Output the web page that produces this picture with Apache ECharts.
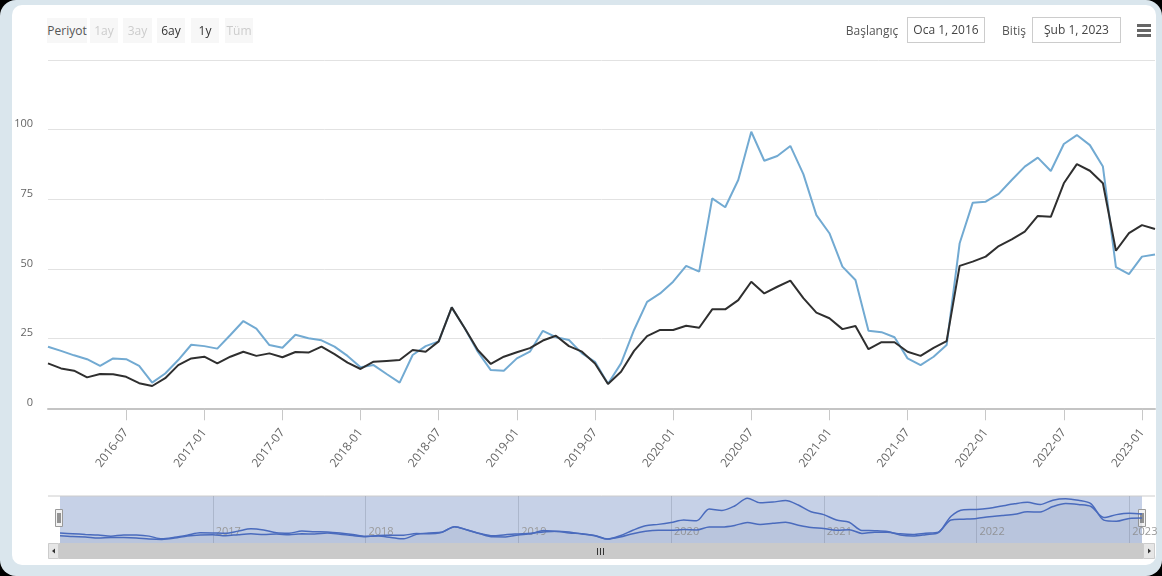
<!DOCTYPE html>
<html>
<head>
<meta charset="utf-8">
<title>Periyot</title>
<script src="https://cdn.jsdelivr.net/npm/echarts@6/dist/echarts.min.js"></script>
<style>
  html, body { margin: 0; padding: 0; width: 1162px; height: 576px; overflow: hidden; background: #000; font-family: "Open Sans", sans-serif; }
  #frame { position: absolute; left: 0; top: 0; width: 1162px; height: 576px; background: #dae6ed; border-radius: 16px; }
  #panel { position: absolute; left: 12px; top: 5px; right: 6px; bottom: 11px; background: #fff; border-radius: 10px; }
  #chart { position: absolute; left: 0; top: 0; width: 1162px; height: 576px; }
  .tb { position: absolute; top: 18px; height: 25px; line-height: 25px; font-size: 12px; text-align: center; z-index: 5; }
  .btn { background: #f7f7f7; color: #cccccc; }
  .btn.on { color: #333; }
  .lbl { color: #555; }
  .box { position: absolute; top: 17px; height: 24px; line-height: 24px; border: 1px solid #cccccc; font-size: 12px; color: #444; text-align: center; background: #fff; z-index: 5; }
  .bar { position: absolute; left: 1137px; width: 14px; height: 3px; background: #666; z-index: 5; }
</style>
</head>
<body>
<div id="frame"><div id="panel"></div></div>
<div id="chart"></div>

<div class="tb btn lbl" style="left:47px;width:40px;">Periyot</div>
<div class="tb btn" style="left:90px;width:28px;">1ay</div>
<div class="tb btn" style="left:123px;width:29px;">3ay</div>
<div class="tb btn on" style="left:157px;width:28px;">6ay</div>
<div class="tb btn on" style="left:191px;width:28px;">1y</div>
<div class="tb btn" style="left:225px;width:28px;">Tüm</div>

<div class="tb lbl" style="left:843px;width:58px;">Başlangıç</div>
<div class="box" style="left:907px;width:76px;">Oca 1, 2016</div>
<div class="tb lbl" style="left:1001px;width:26px;">Bitiş</div>
<div class="box" style="left:1032px;width:87px;">Şub 1, 2023</div>
<div class="bar" style="top:24px;"></div>
<div class="bar" style="top:29px;"></div>
<div class="bar" style="top:34px;"></div>

<script>
// aylar: 2016-01 .. 2023-02
var months = [];
for (var y = 2016; y <= 2023; y++) {
  for (var m = 1; m <= 12; m++) {
    if (y === 2023 && m > 2) break;
    months.push(y + '-' + (m < 10 ? '0' + m : m));
  }
}

// acik mavi seri
var seriesLight = [
  22.1, 20.6, 19.0, 17.6, 15.2, 17.9, 17.6, 15.2, 9.2, 12.5, 17.3, 22.8,
  22.3, 21.4, 26.3, 31.3, 28.6, 22.7, 21.7, 26.4, 25.1, 24.4, 22.1, 18.8,
  14.7, 15.5, 12.3, 9.2, 19.1, 22.3, 24.0, 36.2, 28.7, 20.3, 13.7, 13.5,
  17.9, 20.3, 27.8, 25.5, 24.5, 19.7, 16.7, 8.8, 16.1, 28.1, 38.2, 41.2,
  45.4, 51.1, 49.0, 75.3, 72.1, 81.9, 99.2, 88.8, 90.5, 94.1, 84.0, 69.3,
  62.8, 50.8, 46.0, 27.8, 27.3, 25.5, 17.9, 15.5, 18.5, 22.7, 59.2, 73.7,
  74.1, 76.9, 81.9, 86.7, 89.9, 85.1, 94.8, 98.0, 94.4, 86.7, 50.6, 48.1,
  54.4, 55.2
];

// koyu seri
var seriesDark = [
  16.1, 14.3, 13.5, 11.1, 12.3, 12.2, 11.3, 9.0, 8.0, 10.8, 15.5, 17.9,
  18.5, 16.1, 18.5, 20.3, 18.8, 19.7, 18.3, 20.2, 20.0, 22.1, 19.4, 16.4,
  14.1, 16.7, 17.0, 17.3, 20.9, 20.3, 24.0, 36.2, 28.7, 20.9, 15.9, 18.5,
  20.1, 21.6, 24.3, 26.0, 22.3, 20.3, 16.1, 8.7, 13.1, 20.6, 25.9, 28.1,
  28.1, 29.6, 28.9, 35.5, 35.5, 38.8, 45.4, 41.2, 43.6, 45.8, 39.5, 34.3,
  32.3, 28.4, 29.5, 21.2, 23.7, 23.7, 20.3, 18.8, 21.7, 24.1, 51.1, 52.6,
  54.4, 58.2, 60.6, 63.4, 69.0, 68.7, 80.7, 87.6, 85.2, 80.7, 56.5, 62.8,
  65.7, 64.3
];

var yTicks = [0, 25, 50, 75, 100, 125];

// 6 ayda bir etiket (ocak / temmuz)
function halfYear(idx, val) {
  var mm = val.slice(5);
  return idx > 0 && (mm === '01' || mm === '07');
}
function yearStart(idx, val) {
  return idx > 0 && val.slice(5) === '01';
}

var chart = echarts.init(document.getElementById('chart'));

var navLine = { color: '#4a6bbd', width: 1.5 };
var navArea = { color: 'rgba(70, 90, 140, 0.07)' };

chart.setOption({
  animation: false,
  textStyle: { fontFamily: 'Open Sans' },
  tooltip: { trigger: 'axis' },
  grid: [
    { left: 48, right: 7, top: 408.3 - 5 * 69.7, bottom: 576 - 408.3 },
    { left: 60, right: 20, top: 496, height: 47, show: true, backgroundColor: '#c6d1e7', borderWidth: 0 }
  ],
  xAxis: [
    {
      type: 'category',
      gridIndex: 0,
      data: months,
      boundaryGap: false,
      axisLine: { lineStyle: { color: '#c4c4c4', width: 2 } },
      axisTick: { show: true, length: 12, interval: halfYear, lineStyle: { color: '#c8c8c8' } },
      axisLabel: { interval: halfYear, rotate: 52, margin: 22, fontSize: 12, color: '#666' },
      splitLine: { show: false }
    },
    {
      type: 'category',
      gridIndex: 1,
      data: months,
      boundaryGap: false,
      axisLine: { show: false },
      axisTick: { show: false },
      axisLabel: {
        inside: true, interval: yearStart, margin: 6, fontSize: 11, color: '#9a9a9a', align: 'left',
        padding: [0, 0, 0, 3],
        formatter: function (v) { return v.slice(0, 4); }
      },
      splitLine: { show: true, interval: yearStart, lineStyle: { color: 'rgba(140, 150, 170, 0.45)' } }
    }
  ],
  yAxis: [
    {
      type: 'value',
      gridIndex: 0,
      min: yTicks[0],
      max: yTicks[yTicks.length - 1],
      interval: 25,
      axisLine: { show: false },
      axisTick: { show: false },
      axisLabel: {
        margin: 15, fontSize: 11, color: '#666', verticalAlign: 'bottom',
        formatter: function (v) { return v === 125 ? '' : v; }
      },
      splitLine: { lineStyle: { color: '#e2e2e2' } }
    },
    {
      type: 'value',
      gridIndex: 1,
      min: 0,
      max: 104,
      axisLine: { show: false },
      axisTick: { show: false },
      axisLabel: { show: false },
      splitLine: { show: false }
    }
  ],
  series: [
    {
      name: 'Seri 1', type: 'line', data: seriesLight, showSymbol: false,
      lineStyle: { color: '#72aad2', width: 2 }, itemStyle: { color: '#72aad2' }
    },
    {
      name: 'Seri 2', type: 'line', data: seriesDark, showSymbol: false,
      lineStyle: { color: '#2f2f2f', width: 2 }, itemStyle: { color: '#2f2f2f' }
    },
    {
      type: 'line', xAxisIndex: 1, yAxisIndex: 1, data: seriesLight, showSymbol: false, smooth: 0.3,
      lineStyle: navLine, areaStyle: navArea, silent: true, tooltip: { show: false }
    },
    {
      type: 'line', xAxisIndex: 1, yAxisIndex: 1, data: seriesDark, showSymbol: false, smooth: 0.3,
      lineStyle: navLine, areaStyle: navArea, silent: true, tooltip: { show: false }
    }
  ],
  graphic: [
    // navigator ust cizgi
    { type: 'line', shape: { x1: 48, y1: 496, x2: 1155, y2: 496 }, style: { stroke: '#cccccc', lineWidth: 1 } },
    // scrollbar
    { type: 'rect', shape: { x: 48, y: 543, width: 1107, height: 16 }, style: { fill: '#f2f2f2' } },
    { type: 'rect', shape: { x: 59, y: 543, width: 1084, height: 16 }, style: { fill: '#cacaca' } },
    { type: 'rect', shape: { x: 48.5, y: 543.5, width: 10, height: 15 }, style: { fill: '#e6e6e6', stroke: '#cccccc' } },
    { type: 'rect', shape: { x: 1143.5, y: 543.5, width: 11, height: 15 }, style: { fill: '#e6e6e6', stroke: '#cccccc' } },
    { type: 'polygon', shape: { points: [[52, 551], [55, 548.5], [55, 553.5]] }, style: { fill: '#333' } },
    { type: 'polygon', shape: { points: [[1151, 551], [1148, 548.5], [1148, 553.5]] }, style: { fill: '#333' } },
    { type: 'line', shape: { x1: 597.5, y1: 548, x2: 597.5, y2: 555 }, style: { stroke: '#333', lineWidth: 1 } },
    { type: 'line', shape: { x1: 600.5, y1: 548, x2: 600.5, y2: 555 }, style: { stroke: '#333', lineWidth: 1 } },
    { type: 'line', shape: { x1: 603.5, y1: 548, x2: 603.5, y2: 555 }, style: { stroke: '#333', lineWidth: 1 } },
    // navigator tutamaclari
    { type: 'rect', shape: { x: 55.5, y: 509.5, width: 7, height: 17 }, style: { fill: '#f2f2f2', stroke: '#999' } },
    { type: 'line', shape: { x1: 58, y1: 513, x2: 58, y2: 523 }, style: { stroke: '#333', lineWidth: 1 } },
    { type: 'line', shape: { x1: 60, y1: 513, x2: 60, y2: 523 }, style: { stroke: '#333', lineWidth: 1 } },
    { type: 'rect', shape: { x: 1138.5, y: 509.5, width: 7, height: 17 }, style: { fill: '#f2f2f2', stroke: '#999' } },
    { type: 'line', shape: { x1: 1141, y1: 513, x2: 1141, y2: 523 }, style: { stroke: '#333', lineWidth: 1 } },
    { type: 'line', shape: { x1: 1143, y1: 513, x2: 1143, y2: 523 }, style: { stroke: '#333', lineWidth: 1 } }
  ]
});
</script>
</body>
</html>
